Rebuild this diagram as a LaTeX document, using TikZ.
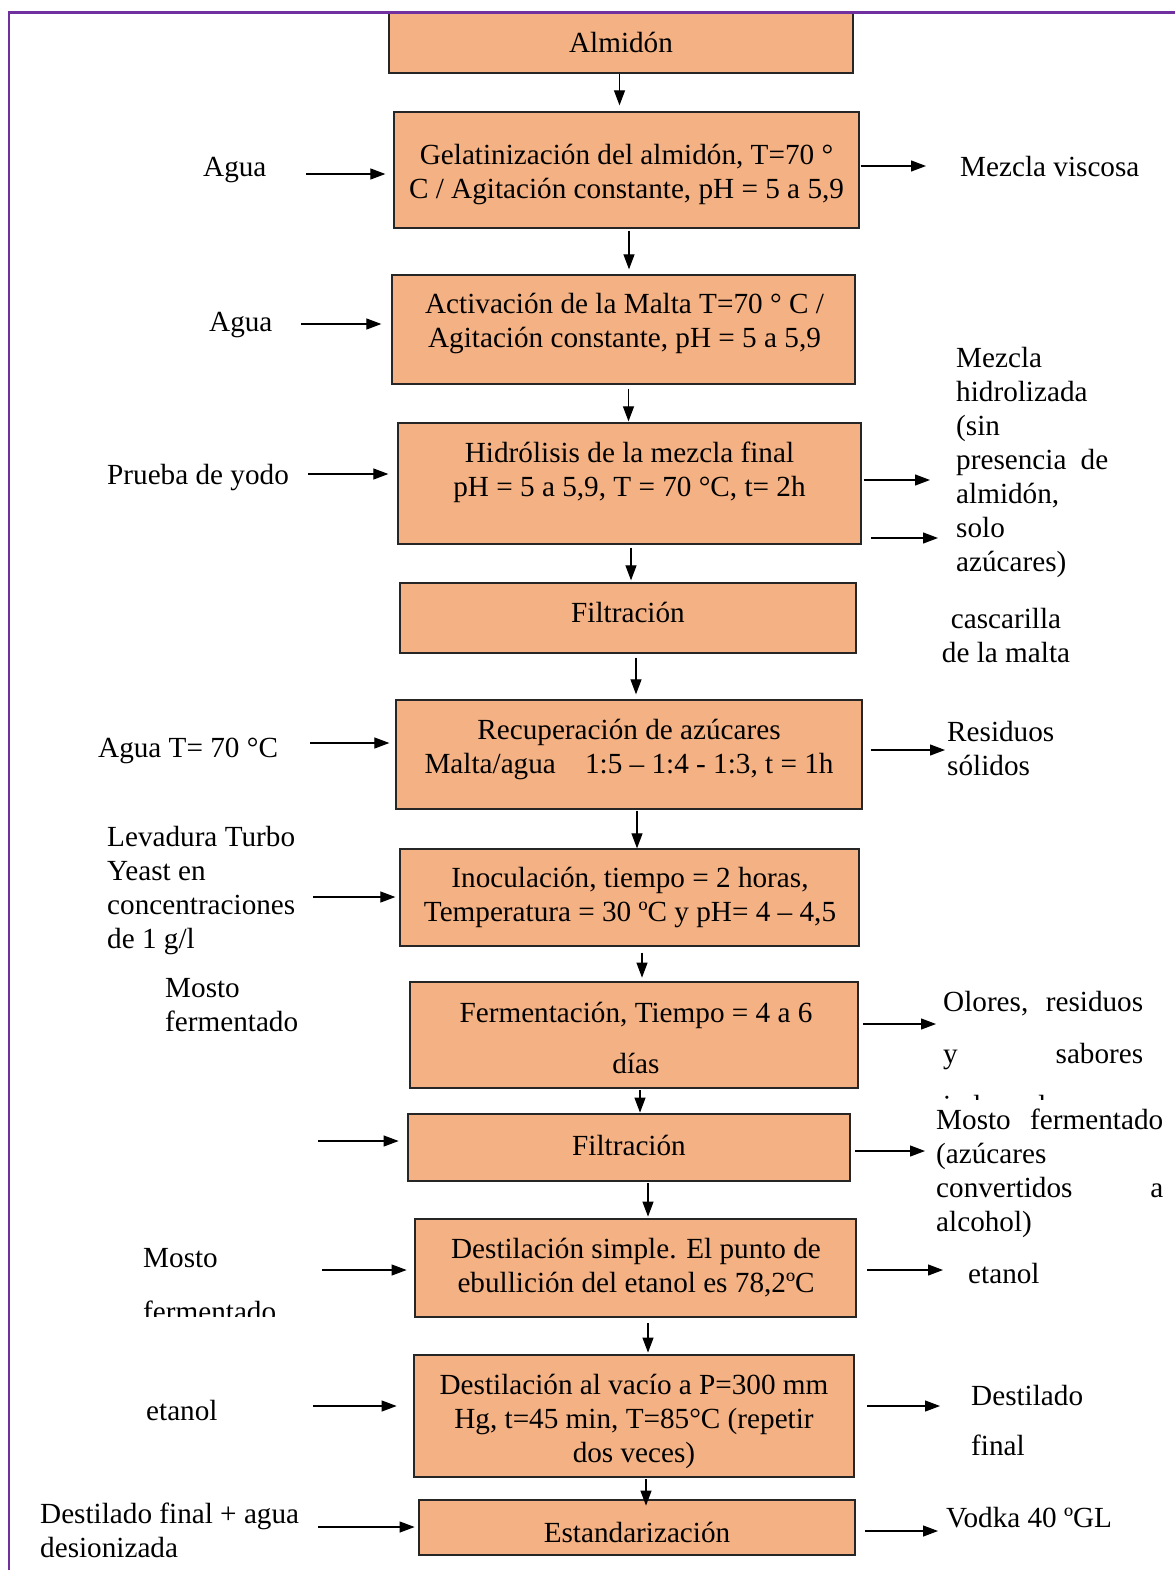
\documentclass[tikz,border=0pt]{standalone}
\usepackage{fontspec}
\setmainfont{Liberation Serif}
\usetikzlibrary{arrows.meta}
\definecolor{boxfill}{HTML}{F4B183}
\definecolor{framec}{HTML}{7030A0}
\newcommand{\fs}{\fontsize{29.2}{34}\selectfont}
\begin{document}
\begin{tikzpicture}[x=1pt,y=-1pt,
 box/.style={draw=black!85, fill=boxfill, line width=1.3pt, inner sep=0pt},
 boxb/.style={box, line width=2.8pt},
 lab/.style={font=\fs, inner sep=0pt, yshift=11.5pt, execute at begin node=\strut},
 arr/.style={line width=1.2pt, -{Triangle[length=15pt,width=11pt]}}]
\useasboundingbox[fill=white] (0,0) rectangle (1175,1570);

% boxes
\node[box, minimum width=464pt, minimum height=60pt] (b1) at (621,43) {};
\node[box, minimum width=465pt, minimum height=116pt] (b2) at (626.5,170) {};
\node[box, minimum width=463pt, minimum height=109pt] (b3) at (623.5,329.5) {};
\node[box, minimum width=463pt, minimum height=121pt] (b4) at (629.5,483.5) {};
\node[box, minimum width=456pt, minimum height=70pt] (b5) at (628,618) {};
\node[box, minimum width=466pt, minimum height=109pt] (b6) at (629,754.5) {};
\node[box, minimum width=459pt, minimum height=97pt] (b7) at (629.5,897.5) {};
\node[boxb, minimum width=448pt, minimum height=106pt] (b8) at (634,1035) {};
\node[boxb, minimum width=442pt, minimum height=67pt] (b9) at (629,1147.5) {};
\node[boxb, minimum width=441pt, minimum height=98pt] (b10) at (635.5,1268) {};
\node[boxb, minimum width=440pt, minimum height=122pt] (b11) at (634,1416) {};
\node[boxb, minimum width=436pt, minimum height=55pt] (b12) at (637,1527.5) {};

% box texts
\node[lab, anchor=north, align=center] (t1) at (621,40) {Almidón};
\node[lab, anchor=north, align=center] (t2) at (626.5,155) {Gelatinización del almidón, T=70 °\\C / Agitación constante, pH = 5 a 5,9};
\node[lab, anchor=north, align=center] (t3) at (624.5,304) {Activación de la Malta T=70 ° C /\\Agitación constante, pH = 5 a 5,9};
\node[lab, anchor=north, align=center] (t4) at (629.5,453) {Hidrólisis de la mezcla final\\pH = 5 a 5,9, T = 70 °C, t= 2h};
\node[lab, anchor=north, align=center] (t5) at (628,610) {Filtración};
\node[lab, anchor=north, align=center] (t6) at (629,730) {Recuperación de azúcares\\Malta/agua\quad 1:5 – 1:4 - 1:3, t = 1h};
\node[lab, anchor=north, align=center] (t7) at (630,878) {Inoculación, tiempo = 2 horas,\\Temperatura = 30 ºC y pH= 4 – 4,5};
\node[lab, anchor=north, align=center] (t8) at (636,1013) {Fermentación, Tiempo = 4 a 6\\[17pt]días};
\node[lab, anchor=north, align=center] (t9) at (629,1143) {Filtración};
\node[lab, anchor=north, align=center] (t10) at (636,1249) {Destilación simple. El punto de\\ebullición del etanol es 78,2ºC};
\node[lab, anchor=north, align=center] (t11) at (634,1385) {Destilación al vacío a P=300 mm\\Hg, t=45 min, T=85°C (repetir\\dos veces)};
\node[lab, anchor=north, align=center] (t12) at (637,1530) {Estandarización};

% vertical arrows
\draw[arr, shorten >=6pt] (b1.south -| 619.5,0) -- (b2.north -| 619.5,0);
\draw[arr, shorten <=2pt, shorten >=5pt] (b2.south -| 629,0) -- (b3.north -| 629,0);
\draw[arr, shorten <=4pt, shorten >=1pt] (b3.south -| 628.5,0) -- (b4.north -| 628.5,0);
\draw[arr, shorten <=3pt, shorten >=2pt] (b4.south -| 631,0) -- (b5.north -| 631,0);
\draw[arr, shorten <=4pt, shorten >=5pt] (b5.south -| 636,0) -- (b6.north -| 636,0);
\draw[arr, shorten <=1pt] (b6.south -| 637,0) -- (b7.north -| 637,0);
\draw[arr, shorten <=6pt, shorten >=3pt] (b7.south -| 642,0) -- (b8.north -| 642,0);
\draw[arr, shorten <=1pt, shorten >=0pt] (b8.south -| 640,0) -- (b9.north -| 640,0);
\draw[arr, shorten <=1pt, shorten >=1pt] (b9.south -| 648,0) -- (b10.north -| 648,0);
\draw[arr, shorten <=5pt, shorten >=1pt] (b10.south -| 648,0) -- (b11.north -| 648,0);
\draw[arr, shorten <=1pt, shorten >=-7pt] (b11.south -| 646,0) -- (b12.north -| 646,0);

% left labels
\node[lab, anchor=north west, align=left] (l1) at (203,164) {Agua};
\node[lab, anchor=north west, align=left] (l2) at (209,319) {Agua};
\node[lab, anchor=north west, align=left] (l3) at (107,472) {Prueba de yodo};
\node[lab, anchor=north west, align=left] (l4) at (98,745) {Agua T= 70 °C};
\node[lab, anchor=north west, align=left] (l5) at (107,838) {Levadura Turbo\\Yeast en\\concentraciones\\de 1 g/l};
\node[lab, anchor=north west, align=left] (l6) at (165,990) {Mosto\\fermentado};
\begin{scope}
\clip (0,1200) rectangle (400,1316);
\node[lab, anchor=north west, align=left] (l7) at (143,1260) {Mosto\\[20pt]fermentado};
\end{scope}
\node[lab, anchor=north west, align=left] (l8) at (146,1408) {etanol};
\node[lab, anchor=north west, align=left] (l9) at (40,1514) {Destilado final + agua\\desionizada};

% left arrows
\coordinate (s2) at (306,174);
\coordinate (s3) at (301,324);
\coordinate (s4) at (308,474);
\coordinate (s6) at (310,743);
\coordinate (s7) at (313,897);
\coordinate (s9) at (318,1141);
\coordinate (s10) at (322,1270);
\coordinate (s11) at (313,1406);
\coordinate (s12) at (318,1527);
\draw[arr, shorten >=8pt] (s2) -- (s2 -| b2.west);
\draw[arr, shorten >=10pt] (s3) -- (s3 -| b3.west);
\draw[arr, shorten >=9pt] (s4) -- (s4 -| b4.west);
\draw[arr, shorten >=6pt] (s6) -- (s6 -| b6.west);
\draw[arr, shorten >=4pt] (s7) -- (s7 -| b7.west);
\draw[arr, shorten >=8pt] (s9) -- (s9 -| b9.west);
\draw[arr, shorten >=7pt] (s10) -- (s10 -| b10.west);
\draw[arr, shorten >=16pt] (s11) -- (s11 -| b11.west);
\draw[arr, shorten >=3pt] (s12) -- (s12 -| b12.west);

% right labels
\node[lab, anchor=north west, align=left] (r1) at (960,164) {Mezcla viscosa};
\node[lab, anchor=north west, align=left] (r2) at (956,359) {Mezcla\\hidrolizada\\(sin\\\makebox[152pt][s]{presencia de}\\almidón,\\solo\\azúcares)};
\node[lab, anchor=north, align=center] (r3) at (1006,620) {cascarilla\\de la malta};
\node[lab, anchor=north west, align=left] (r4) at (947,733) {Residuos\\sólidos};
\begin{scope}
\clip (900,980) rectangle (1175,1099);
\node[lab, anchor=north west, align=left] (r5) at (943,1003) {\makebox[200pt][s]{Olores, residuos}\\[18pt]\makebox[200pt][s]{y sabores}\\[18pt]indeseados};
\end{scope}
\node[lab, anchor=north west, align=left] (r6) at (936,1120) {\makebox[227pt][s]{Mosto fermentado}\\(azúcares\\\makebox[227pt][s]{convertidos a}\\alcohol)};
\node[lab, anchor=north west, align=left] (r7) at (968,1271) {etanol};
\node[lab, anchor=north west, align=left] (r8) at (971,1397) {Destilado\\[16pt]final};
\node[lab, anchor=north west, align=left] (r9) at (946,1515) {Vodka 40 ºGL};

% right arrows
\coordinate (e2) at (926,166);
\coordinate (e4) at (930,480);
\coordinate (e4b) at (938,538);
\coordinate (f4b) at (871,538);
\coordinate (e6) at (945,750);
\coordinate (e8) at (936,1024);
\coordinate (e9) at (925,1151);
\coordinate (e10) at (943,1270);
\coordinate (e11) at (940,1406);
\coordinate (e12) at (938,1531);
\draw[arr, shorten <=1pt] (b2.east |- e2) -- (e2);
\draw[arr, shorten <=2pt] (b4.east |- e4) -- (e4);
\draw[arr] (f4b) -- (e4b);
\draw[arr, shorten <=8pt] (b6.east |- e6) -- (e6);
\draw[arr, shorten <=4pt] (b8.east |- e8) -- (e8);
\draw[arr, shorten <=4pt] (b9.east |- e9) -- (e9);
\draw[arr, shorten <=10pt] (b10.east |- e10) -- (e10);
\draw[arr, shorten <=12pt] (b11.east |- e11) -- (e11);
\draw[arr, shorten <=9pt] (b12.east |- e12) -- (e12);

% frame
\draw[framec, line width=3pt] (8,12.5) -- (1175,12.5);
\draw[framec, line width=2pt] (8.5,11) -- (8.5,1570);
\end{tikzpicture}
\end{document}
